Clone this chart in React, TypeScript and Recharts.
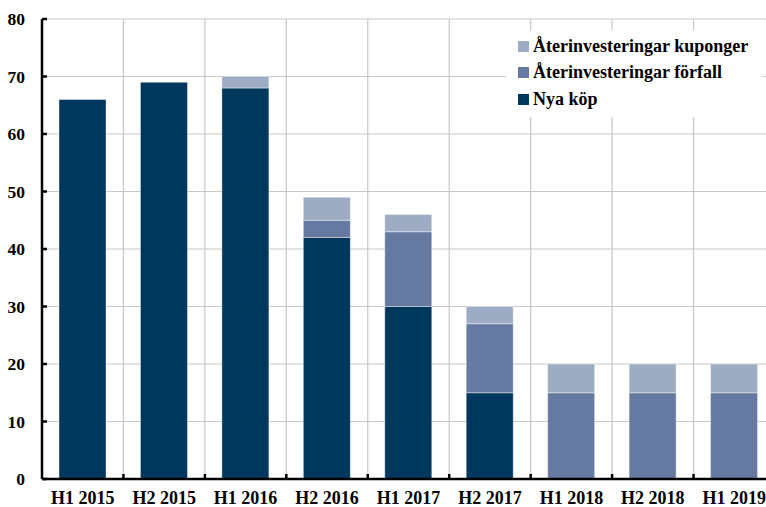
import { Bar, BarChart, CartesianGrid, Legend, XAxis, YAxis } from 'recharts';

const periods = ['H1 2015', 'H2 2015', 'H1 2016', 'H2 2016', 'H1 2017', 'H2 2017', 'H1 2018', 'H2 2018', 'H1 2019'];
const nyaKop = [66, 69, 68, 42, 30, 15, 0, 0, 0];
const forfall = [0, 0, 0, 3, 13, 12, 15, 15, 15];
const kuponger = [0, 0, 2, 4, 3, 3, 5, 5, 5];
const yTicks = [0, 10, 20, 30, 40, 50, 60, 70, 80];

const COLORS = {
  nya: '#00375c',
  forfall: '#6579a1',
  kuponger: '#9eacc3',
};

const FONT = '"Liberation Serif", "Times New Roman", serif';
const AXIS_COLOR = '#000';
const GRID_STROKE = '#c8c8c8';

const CHART_W = 775;
const CHART_H = 507;
const Y_AXIS_W = 42;
const X_AXIS_H = 28;
const BAND = (CHART_W - Y_AXIS_W) / periods.length;

const data = periods.map((p, i) => ({
  name: p,
  nya: nyaKop[i],
  forfall: forfall[i],
  kuponger: kuponger[i],
}));

function XTick({ x, y, payload, index }: any) {
  return (
    <g>
      {index < periods.length - 1 && (
        <line x1={x + BAND / 2} x2={x + BAND / 2} y1={y - 5} y2={y} stroke={AXIS_COLOR} strokeWidth={2.5} />
      )}
      <text x={x} y={y + 25} textAnchor="middle" fontFamily={FONT} fontWeight="bold" fontSize={18} fill="#000">
        {payload.value}
      </text>
    </g>
  );
}

function YTick({ x, y, payload }: any) {
  return (
    <g>
      <line x1={x} x2={x + 5} y1={y} y2={y} stroke={AXIS_COLOR} strokeWidth={2.5} />
      <text x={x - 17} y={y + 6} textAnchor="end" fontFamily={FONT} fontWeight="bold" fontSize={17.5} fill="#000">
        {payload.value}
      </text>
    </g>
  );
}

function LegendBox({ payload }: any) {
  const items = [...(payload ?? [])].reverse();
  return (
    <div style={{ background: '#fff', padding: '3px 0 4px 12px', width: 244 }}>
      {items.map((item: any) => (
        <div
          key={item.value}
          style={{
            display: 'flex',
            alignItems: 'center',
            height: 26.5,
            fontFamily: FONT,
            fontWeight: 'bold',
            fontSize: 18,
            color: '#000',
            whiteSpace: 'nowrap',
          }}
        >
          <span style={{ width: 11, height: 11, background: item.color, marginRight: 4, display: 'inline-block' }} />
          {item.value}
        </div>
      ))}
    </div>
  );
}

export default function App() {
  return (
    <div style={{ position: 'absolute', left: 0, top: 0, width: 766, height: 507, overflow: 'hidden', background: '#fff' }}>
      <BarChart
        width={CHART_W}
        height={CHART_H}
        data={data}
        margin={{ top: 19, right: 0, left: 0, bottom: 0 }}
        barSize={47}
      >
        <CartesianGrid
          stroke={GRID_STROKE}
          strokeWidth={1.2}
          verticalCoordinatesGenerator={({ offset }: any) =>
            periods.slice(1).map((_, i) => offset.left + ((i + 1) * offset.width) / periods.length)
          }
        />
        <XAxis
          dataKey="name"
          height={X_AXIS_H}
          tickSize={0}
          tickMargin={0}
          tick={<XTick />}
          interval={0}
          axisLine={{ stroke: AXIS_COLOR, strokeWidth: 2.5 }}
        />
        <YAxis
          width={Y_AXIS_W}
          domain={[0, 80]}
          ticks={yTicks}
          tickSize={0}
          tickMargin={0}
          tick={<YTick />}
          interval={0}
          axisLine={{ stroke: AXIS_COLOR, strokeWidth: 2.5 }}
        />
        <Legend
          layout="vertical"
          align="center"
          verticalAlign="middle"
          content={<LegendBox />}
          wrapperStyle={{ position: 'absolute', left: 506, top: 30, width: 256 }}
        />
        <Bar dataKey="nya" name="Nya köp" stackId="a" fill={COLORS.nya} stroke="#ffffff" strokeOpacity={0.4} isAnimationActive={false} />
        <Bar dataKey="forfall" name="Återinvesteringar förfall" stackId="a" fill={COLORS.forfall} stroke="#ffffff" strokeOpacity={0.4} isAnimationActive={false} />
        <Bar dataKey="kuponger" name="Återinvesteringar kuponger" stackId="a" fill={COLORS.kuponger} stroke="#ffffff" strokeOpacity={0.4} isAnimationActive={false} />
      </BarChart>
    </div>
  );
}
